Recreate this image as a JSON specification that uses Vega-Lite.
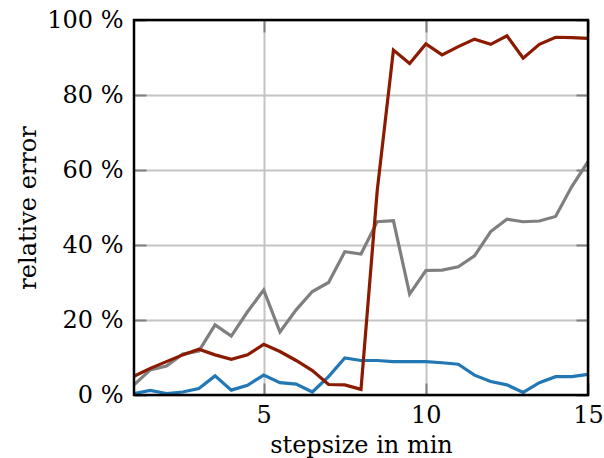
{
  "$schema": "https://vega.github.io/schema/vega-lite/v6.json",
  "width": 454,
  "height": 375,
  "autosize": "none",
  "padding": {"left": 134, "top": 20, "right": 16, "bottom": 63},
  "background": "white",
  "config": {
    "view": {"stroke": null},
    "font": "'DejaVu Serif', 'Liberation Serif', serif",
    "axis": {
      "labelFont": "'DejaVu Serif', 'Liberation Serif', serif",
      "titleFont": "'DejaVu Serif', 'Liberation Serif', serif",
      "labelFontSize": 24,
      "titleFontSize": 24,
      "titleFontWeight": "normal",
      "labelColor": "black",
      "titleColor": "black",
      "domain": false,
      "tickSize": -12,
      "tickColor": "#808080",
      "tickWidth": 2,
      "gridColor": "#c4c4c4",
      "gridWidth": 2
    }
  },
  "datasets": {
    "frame": [{"x0": 1, "x1": 15, "y0": 0, "y1": 100}]
  },
  "data": {
    "values": [
      {"x": 1, "v": 0.4, "s": "blue"}, {"x": 1.5, "v": 1.2, "s": "blue"}, {"x": 2, "v": 0.4, "s": "blue"}, {"x": 2.5, "v": 0.8, "s": "blue"}, {"x": 3, "v": 1.7, "s": "blue"}, {"x": 3.5, "v": 5.1, "s": "blue"}, {"x": 4, "v": 1.3, "s": "blue"}, {"x": 4.5, "v": 2.6, "s": "blue"}, {"x": 5, "v": 5.3, "s": "blue"}, {"x": 5.5, "v": 3.3, "s": "blue"}, {"x": 6, "v": 2.9, "s": "blue"}, {"x": 6.5, "v": 0.8, "s": "blue"}, {"x": 7, "v": 4.9, "s": "blue"}, {"x": 7.5, "v": 9.9, "s": "blue"}, {"x": 8, "v": 9.2, "s": "blue"}, {"x": 8.5, "v": 9.2, "s": "blue"}, {"x": 9, "v": 8.9, "s": "blue"}, {"x": 9.5, "v": 8.9, "s": "blue"}, {"x": 10, "v": 8.9, "s": "blue"}, {"x": 10.5, "v": 8.6, "s": "blue"}, {"x": 11, "v": 8.2, "s": "blue"}, {"x": 11.5, "v": 5.3, "s": "blue"}, {"x": 12, "v": 3.6, "s": "blue"}, {"x": 12.5, "v": 2.7, "s": "blue"}, {"x": 13, "v": 0.7, "s": "blue"}, {"x": 13.5, "v": 3.3, "s": "blue"}, {"x": 14, "v": 4.9, "s": "blue"}, {"x": 14.5, "v": 4.9, "s": "blue"}, {"x": 15, "v": 5.5, "s": "blue"},
      {"x": 1, "v": 2.7, "s": "gray"}, {"x": 1.5, "v": 6.7, "s": "gray"}, {"x": 2, "v": 7.7, "s": "gray"}, {"x": 2.5, "v": 10.9, "s": "gray"}, {"x": 3, "v": 11.7, "s": "gray"}, {"x": 3.5, "v": 18.7, "s": "gray"}, {"x": 4, "v": 15.7, "s": "gray"}, {"x": 4.5, "v": 22.2, "s": "gray"}, {"x": 5, "v": 28, "s": "gray"}, {"x": 5.5, "v": 16.8, "s": "gray"}, {"x": 6, "v": 22.7, "s": "gray"}, {"x": 6.5, "v": 27.6, "s": "gray"}, {"x": 7, "v": 30, "s": "gray"}, {"x": 7.5, "v": 38.2, "s": "gray"}, {"x": 8, "v": 37.6, "s": "gray"}, {"x": 8.5, "v": 46.2, "s": "gray"}, {"x": 9, "v": 46.5, "s": "gray"}, {"x": 9.5, "v": 26.9, "s": "gray"}, {"x": 10, "v": 33.2, "s": "gray"}, {"x": 10.5, "v": 33.3, "s": "gray"}, {"x": 11, "v": 34.2, "s": "gray"}, {"x": 11.5, "v": 37.1, "s": "gray"}, {"x": 12, "v": 43.6, "s": "gray"}, {"x": 12.5, "v": 46.9, "s": "gray"}, {"x": 13, "v": 46.2, "s": "gray"}, {"x": 13.5, "v": 46.4, "s": "gray"}, {"x": 14, "v": 47.6, "s": "gray"}, {"x": 14.5, "v": 55.6, "s": "gray"}, {"x": 15, "v": 62.2, "s": "gray"},
      {"x": 1, "v": 5.0, "s": "red"}, {"x": 1.5, "v": 7.1, "s": "red"}, {"x": 2, "v": 8.9, "s": "red"}, {"x": 2.5, "v": 10.7, "s": "red"}, {"x": 3, "v": 12.2, "s": "red"}, {"x": 3.5, "v": 10.7, "s": "red"}, {"x": 4, "v": 9.5, "s": "red"}, {"x": 4.5, "v": 10.7, "s": "red"}, {"x": 5, "v": 13.5, "s": "red"}, {"x": 5.5, "v": 11.6, "s": "red"}, {"x": 6, "v": 9.2, "s": "red"}, {"x": 6.5, "v": 6.5, "s": "red"}, {"x": 7, "v": 2.8, "s": "red"}, {"x": 7.5, "v": 2.7, "s": "red"}, {"x": 8, "v": 1.5, "s": "red"}, {"x": 8.5, "v": 54.5, "s": "red"}, {"x": 9, "v": 92, "s": "red"}, {"x": 9.5, "v": 88.4, "s": "red"}, {"x": 10, "v": 93.6, "s": "red"}, {"x": 10.5, "v": 90.7, "s": "red"}, {"x": 11, "v": 92.9, "s": "red"}, {"x": 11.5, "v": 94.9, "s": "red"}, {"x": 12, "v": 93.5, "s": "red"}, {"x": 12.5, "v": 95.8, "s": "red"}, {"x": 13, "v": 89.8, "s": "red"}, {"x": 13.5, "v": 93.5, "s": "red"}, {"x": 14, "v": 95.4, "s": "red"}, {"x": 14.5, "v": 95.3, "s": "red"}, {"x": 15, "v": 95.1, "s": "red"}
    ]
  },
  "layer": [
    {
      "mark": {"type": "line", "strokeWidth": 3, "opacity": 0},
      "encoding": {
        "x": {
          "field": "x", "type": "quantitative",
          "scale": {"domain": [1, 15], "nice": false, "zero": false},
          "axis": {"orient": "bottom", "values": [5, 10, 15], "title": "stepsize in min", "labelPadding": 20, "titlePadding": 6, "grid": true, "labelFlush": false}
        },
        "y": {
          "field": "v", "type": "quantitative",
          "scale": {"domain": [0, 100], "nice": false},
          "axis": {"orient": "left", "values": [0, 20, 40, 60, 80, 100], "title": "relative error", "labelExpr": "datum.value + ' %'", "labelPadding": 23, "titlePadding": 6, "grid": true, "labelFlush": false}
        },
        "detail": {"field": "s"}
      }
    },
    {
      "mark": {"type": "line", "strokeWidth": 3.2},
      "encoding": {
        "x": {
          "field": "x", "type": "quantitative",
          "axis": {"orient": "top", "values": [5, 10, 15], "title": null, "labels": false, "grid": false}
        },
        "y": {
          "field": "v", "type": "quantitative",
          "axis": {"orient": "right", "values": [0, 20, 40, 60, 80, 100], "title": null, "labels": false, "grid": false}
        },
        "color": {
          "field": "s", "type": "nominal",
          "scale": {"domain": ["blue", "gray", "red"], "range": ["#2178b4", "#7f7f7f", "#8b1a00"]},
          "legend": null
        }
      }
    },
    {
      "data": {"name": "frame"},
      "mark": {"type": "rect", "fill": null, "stroke": "black", "strokeWidth": 2.5},
      "encoding": {
        "x": {"field": "x0", "type": "quantitative", "axis": null},
        "x2": {"field": "x1"},
        "y": {"field": "y0", "type": "quantitative", "axis": null},
        "y2": {"field": "y1"}
      }
    }
  ],
  "resolve": {"axis": {"x": "independent", "y": "independent"}}
}
